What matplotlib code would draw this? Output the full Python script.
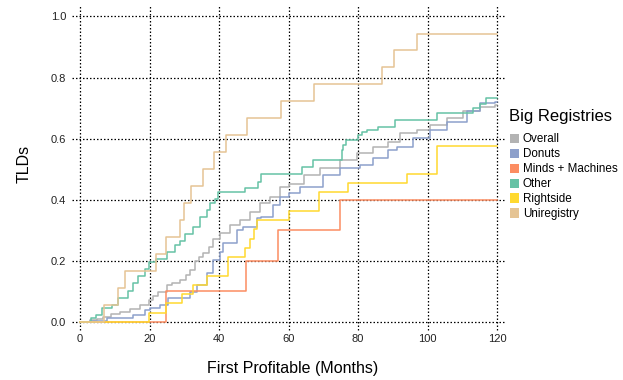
import matplotlib
matplotlib.use("Agg")
import matplotlib.pyplot as plt
from matplotlib.patches import Patch

plt.rcParams['font.family'] = ['Liberation Sans', 'DejaVu Sans']

# months to first profit vs. cumulative share of TLDs, one staircase per registry
overall_m = [0, 3, 5, 6.6, 9, 11.5, 14.4, 17.3, 19.9, 21, 22.4, 24.9, 26.5, 28.8, 30.5, 31.7,
             33.1, 34.3, 35.4, 37, 38.4, 40.3, 43.2, 46, 48.9, 51.8, 54.7, 57.6, 60, 64.5,
             69, 74.8, 79.6, 84.4, 88.7, 92, 96.9, 100.7, 105.5, 110.3, 115.1, 119.4, 120]
overall_v = [0, 0.005, 0.01, 0.016, 0.025, 0.034, 0.042, 0.056, 0.072, 0.085, 0.099, 0.121, 0.128,
             0.137, 0.155, 0.17, 0.2, 0.214, 0.226, 0.245, 0.27, 0.29, 0.317, 0.334, 0.36, 0.39,
             0.41, 0.443, 0.45, 0.481, 0.503, 0.53, 0.552, 0.574, 0.59, 0.618, 0.628, 0.645,
             0.666, 0.689, 0.705, 0.71, 0.71]

donuts_m = [0, 2.9, 7.7, 15.3, 18.7, 20.1, 23, 25.4, 28.8, 31.7, 33.6, 36.5, 38.4, 40.3, 41.2,
            45.1, 47, 50.8, 52, 55.6, 57.6, 60, 63.3, 70, 74.8, 80.6, 84.4, 88.7, 91.1, 95.9,
            100.7, 105.5, 111.3, 115.1, 119.4, 120]
donuts_v = [0, 0.004, 0.012, 0.023, 0.04, 0.045, 0.056, 0.077, 0.08, 0.099, 0.121, 0.159, 0.203,
            0.23, 0.258, 0.301, 0.312, 0.34, 0.345, 0.383, 0.41, 0.421, 0.443, 0.481, 0.503,
            0.514, 0.536, 0.563, 0.574, 0.601, 0.628, 0.656, 0.689, 0.716, 0.721, 0.721]

mm_m = [0, 24.7, 47.7, 57, 74.7, 120]
mm_v = [0, 0.1, 0.2, 0.3, 0.4, 0.4]

other_m = [0, 3.1, 4.5, 6.2, 9.1, 11, 13.8, 15.3, 16.7, 18.7, 19.9, 22, 24.9, 27.3, 28.8, 30.2,
           32.5, 34.5, 36.5, 37.4, 38.8, 39.8, 47.5, 51.2, 52.2, 63.8, 67.1, 75.3, 75.8, 76.5,
           80.1, 81.1, 82.5, 85.8, 90.6, 102.7, 113, 115.1, 116.8, 120]
other_v = [0, 0.012, 0.023, 0.046, 0.057, 0.08, 0.103, 0.126, 0.149, 0.172, 0.195, 0.207, 0.23,
           0.253, 0.264, 0.287, 0.31, 0.345, 0.368, 0.391, 0.402, 0.426, 0.438, 0.459, 0.484,
           0.508, 0.53, 0.563, 0.579, 0.596, 0.612, 0.623, 0.628, 0.637, 0.661, 0.683, 0.70,
           0.714, 0.732, 0.732]

rightside_m = [0, 19.9, 24.7, 29.3, 32.5, 36.5, 42.5, 47.5, 49, 50.2, 51, 60.2, 68.8, 77.2, 94,
               102.6, 120]
rightside_v = [0, 0.030, 0.061, 0.091, 0.121, 0.152, 0.212, 0.242, 0.273, 0.303, 0.333, 0.364,
               0.424, 0.455, 0.485, 0.576, 0.576]

uni_m = [0, 7, 11, 13, 22, 24.7, 28.8, 29.9, 32, 35.5, 38.7, 42, 48, 57.8, 67.3, 87, 90.4, 97, 120]
uni_v = [0, 0.056, 0.111, 0.167, 0.222, 0.278, 0.333, 0.389, 0.444, 0.5, 0.556, 0.611, 0.667,
         0.722, 0.778, 0.833, 0.889, 0.944, 0.944]

labels = ['Overall', 'Donuts', 'Minds + Machines', 'Other', 'Rightside', 'Uniregistry']
colors = ['#B3B3B3', '#8DA0CB', '#FC8D62', '#66C2A5', '#FFD92F', '#E5C494']
series = [(overall_m, overall_v), (donuts_m, donuts_v), (mm_m, mm_v),
          (other_m, other_v), (rightside_m, rightside_v), (uni_m, uni_v)]

x_ticks = [0, 20, 40, 60, 80, 100, 120]
y_ticks = [0.0, 0.2, 0.4, 0.6, 0.8, 1.0]

W, H = 623, 380
fig = plt.figure(figsize=(W / 100, H / 100), dpi=100)
ax = fig.add_axes([80 / W, 58 / H, 425 / W, 316 / H])
ax.set_xlim(0, 122.3)
ax.set_ylim(0, 1.034)
for s in ax.spines.values():
    s.set_visible(False)

# dotted grid that also stands in for the tick marks
dots = (0, (1.2, 1.6))
tick_x = 8 / 316
tick_y = 8 / 425
for xv in x_ticks:
    ax.axvline(xv, ymin=-tick_x, ymax=1, color='black', lw=0.9, ls=dots, clip_on=False, zorder=1)
for yv in y_ticks:
    ax.axhline(yv, xmin=-tick_y, xmax=1, color='black', lw=0.9, ls=dots, clip_on=False, zorder=1)

for (m, v), c in zip(series, colors):
    ax.plot(m, v, drawstyle='steps-post', color=c, lw=1.1, clip_on=False, zorder=3)

ax.set_xticks(x_ticks)
ax.set_yticks(y_ticks)
ax.set_yticklabels([f'{t:.1f}' for t in y_ticks])
ax.tick_params(length=0, labelsize=8, colors='#222222')
ax.tick_params(axis='x', pad=9)
ax.tick_params(axis='y', pad=10)

ax.set_xlabel('First Profitable (Months)', fontsize=11.5, labelpad=12)
ax.set_ylabel('TLDs', fontsize=11.5, labelpad=14)

# legend: title placed on its own so the gap to the entries can be set
fig.text(509 / W, 1 - 116 / H, 'Big Registries', fontsize=12, ha='left', va='center')
handles = [Patch(facecolor=c, edgecolor='none') for c in colors]
fig.legend(handles, labels, loc='upper left', bbox_to_anchor=(499 / W, 1 - 123 / H),
           frameon=False, fontsize=8.4, handlelength=0.85, handleheight=0.85,
           handletextpad=0.3, labelspacing=0.25)

fig.savefig('out.png', dpi=100)
